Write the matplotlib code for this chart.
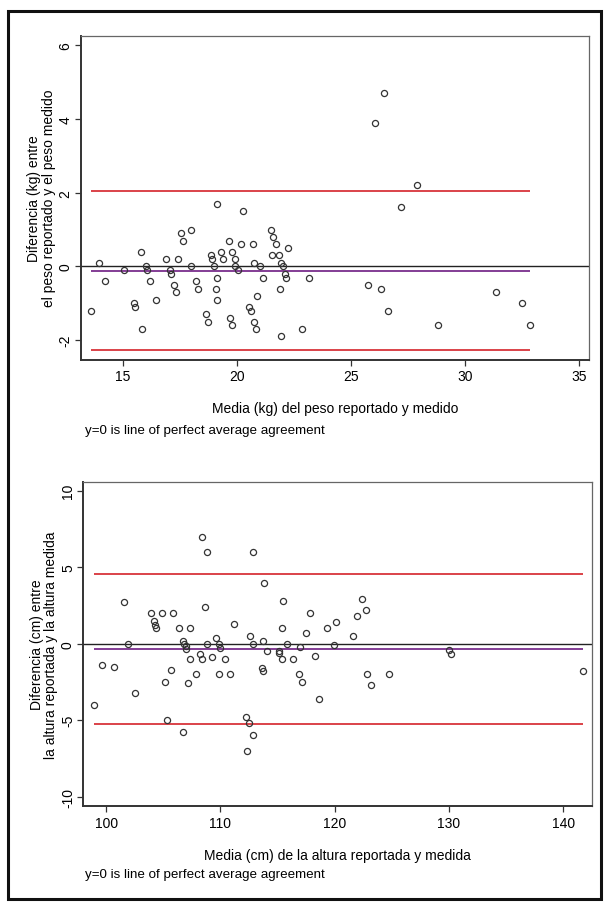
import matplotlib
matplotlib.use('Agg')
import matplotlib.pyplot as plt
from matplotlib.patches import Rectangle
import numpy as np

plt.rcParams['font.family'] = ['Liberation Sans', 'DejaVu Sans']

# Peso: media (kg) y diferencia (kg)
peso_media = [13.6, 13.95, 14.2, 15.05, 15.5, 15.55, 15.8, 15.85, 16.0, 16.05,
              16.2, 16.45, 16.9, 17.05, 17.1, 17.25, 17.35, 17.4, 17.55, 17.65,
              18.0, 18.0, 18.2, 18.3, 18.65, 18.75, 18.85, 18.9, 19.0, 19.15,
              19.15, 19.1, 19.15, 19.3, 19.4, 19.65, 19.7, 19.8, 19.8, 19.9,
              19.9, 20.05, 20.25, 20.2, 20.55, 20.6, 20.7, 20.75, 20.75, 20.85,
              20.9, 21.0, 21.15, 21.5, 21.6, 21.7, 21.55, 21.85, 21.9, 21.95,
              22.0, 22.1, 22.15, 22.25, 21.95, 22.85, 23.15, 25.75, 26.05, 26.3,
              26.45, 26.6, 27.2, 27.9, 28.8, 31.35, 32.5, 32.85]
peso_dif = [-1.2, 0.1, -0.4, -0.1, -1.0, -1.1, 0.4, -1.7, 0.0, -0.1,
            -0.4, -0.9, 0.2, -0.1, -0.2, -0.5, -0.7, 0.2, 0.9, 0.7,
            1.0, 0.0, -0.4, -0.6, -1.3, -1.5, 0.3, 0.2, 0.0, 1.7,
            -0.3, -0.6, -0.9, 0.4, 0.2, 0.7, -1.4, -1.6, 0.4, 0.2,
            0.0, -0.1, 1.5, 0.6, -1.1, -1.2, 0.6, 0.1, -1.5, -1.7,
            -0.8, 0.0, -0.3, 1.0, 0.8, 0.6, 0.3, 0.3, -0.6, 0.1,
            0.0, -0.2, -0.3, 0.5, -1.9, -1.7, -0.3, -0.5, 3.9, -0.6,
            4.7, -1.2, 1.6, 2.2, -1.6, -0.7, -1.0, -1.6]
peso_media_dif = -0.12
peso_limites = [-2.28, 2.04]

# Altura: media (cm) y diferencia (cm)
altura_media = [98.9, 99.6, 100.65, 101.55, 101.9, 102.5, 103.9, 104.15, 104.3, 104.35,
                104.85, 105.15, 105.35, 105.7, 105.85, 106.4, 106.75, 106.85, 106.95, 107.0,
                106.75, 107.15, 107.35, 107.35, 107.85, 108.2, 108.35, 108.35, 108.65, 108.85,
                108.85, 109.3, 109.65, 109.9, 110.0, 109.85, 110.4, 110.85, 111.2, 112.25,
                112.5, 112.35, 112.6, 112.85, 112.85, 112.85, 113.75, 113.65, 113.75, 113.85,
                114.1, 115.1, 115.15, 115.35, 115.35, 115.45, 115.85, 116.35, 116.85, 116.95,
                117.1, 117.5, 117.85, 118.25, 118.6, 119.35, 119.9, 120.15, 121.6, 121.95,
                122.4, 122.75, 122.85, 123.2, 124.8, 130.05, 130.2, 141.7]
altura_dif = [-4.0, -1.4, -1.5, 2.7, 0.0, -3.2, 2.0, 1.5, 1.25, 1.0,
              2.0, -2.5, -5.0, -1.7, 2.0, 1.0, 0.2, 0.0, -0.15, -0.35,
              -5.8, -2.6, -1.0, 1.0, -2.0, -0.7, -1.0, 7.0, 2.4, 6.0,
              0.0, -0.9, 0.4, 0.0, -0.3, -2.0, -1.0, -2.0, 1.3, -4.8,
              -5.2, -7.0, 0.5, 0.0, 6.0, -6.0, 0.2, -1.6, -1.8, 4.0,
              -0.5, -0.5, -0.6, -1.0, 1.0, 2.8, 0.0, -1.0, -2.0, -0.2,
              -2.5, 0.7, 2.0, -0.8, -3.6, 1.0, -0.1, 1.4, 0.5, 1.8,
              2.9, 2.2, -2.0, -2.7, -2.0, -0.4, -0.7, -1.8]
altura_media_dif = -0.35
altura_limites = [-5.25, 4.55]

W, H = 609, 904
fig = plt.figure(figsize=(W / 100, H / 100), dpi=100)
fig.patch.set_facecolor('white')

# outer frame
fig.patches.append(Rectangle((8 / W, 1 - 900 / H), 593 / W, 888 / H, transform=fig.transFigure,
                             fill=False, edgecolor='#111111', linewidth=2.2))

RED = '#d8343a'
PURPLE = '#7a2e8c'


def ba_panel(rect, x, y, mean_d, loa, xlim, ylim, xticks, yticks, ylabel, xlabel):
    ax = fig.add_axes(rect)
    ax.set_xlim(*xlim)
    ax.set_ylim(*ylim)
    ax.axhline(0, color='#222222', lw=1.0, zorder=1)
    ax.hlines(loa, min(x), max(x), colors=RED, lw=1.3, zorder=2)
    ax.hlines(mean_d, min(x), max(x), colors=PURPLE, lw=1.3, zorder=2)
    ax.plot(x, y, 'o', ms=4.4, mfc='none', mec='#333333', mew=0.9, zorder=3)
    ax.set_xticks(xticks)
    ax.set_yticks(yticks)
    ax.set_yticklabels([str(t) for t in yticks], rotation=90, va='center')
    ax.tick_params(direction='out', length=4, width=0.9, color='#333333',
                   labelsize=10, pad=2)
    ax.tick_params(axis='x', pad=3)
    for s in ['left', 'bottom']:
        ax.spines[s].set_linewidth(1.4)
        ax.spines[s].set_color('#333333')
    for s in ['top', 'right']:
        ax.spines[s].set_linewidth(0.9)
        ax.spines[s].set_color('#666666')
    ax.set_ylabel(ylabel, fontsize=10, linespacing=1.05, labelpad=2)
    ax.set_xlabel(xlabel, fontsize=10, labelpad=13)
    return ax


ax1 = ba_panel([81 / W, 1 - 360.7 / H, 508.3 / W, 324 / H],
               peso_media, peso_dif, peso_media_dif, peso_limites,
               (13.17, 35.44), (-2.53, 6.26), [15, 20, 25, 30, 35], [-2, 0, 2, 4, 6],
               'Diferencia (kg) entre\nel peso reportado y el peso medido',
               'Media (kg) del peso reportado y medido')
fig.text(85 / W, 1 - 431 / H, 'y=0 is line of perfect average agreement',
         fontsize=9.6, ha='left', va='center')

ax2 = ba_panel([83.3 / W, 1 - 807.3 / H, 508.4 / W, 324.6 / H],
               altura_media, altura_dif, altura_media_dif, altura_limites,
               (98.0, 142.5), (-10.63, 10.59), [100, 110, 120, 130, 140], [-10, -5, 0, 5, 10],
               'Diferencia (cm) entre\nla altura reportada y la altura medida',
               'Media (cm) de la altura reportada y medida')
fig.text(85 / W, 1 - 875 / H, 'y=0 is line of perfect average agreement',
         fontsize=9.6, ha='left', va='center')

fig.savefig('out.png', dpi=100)
